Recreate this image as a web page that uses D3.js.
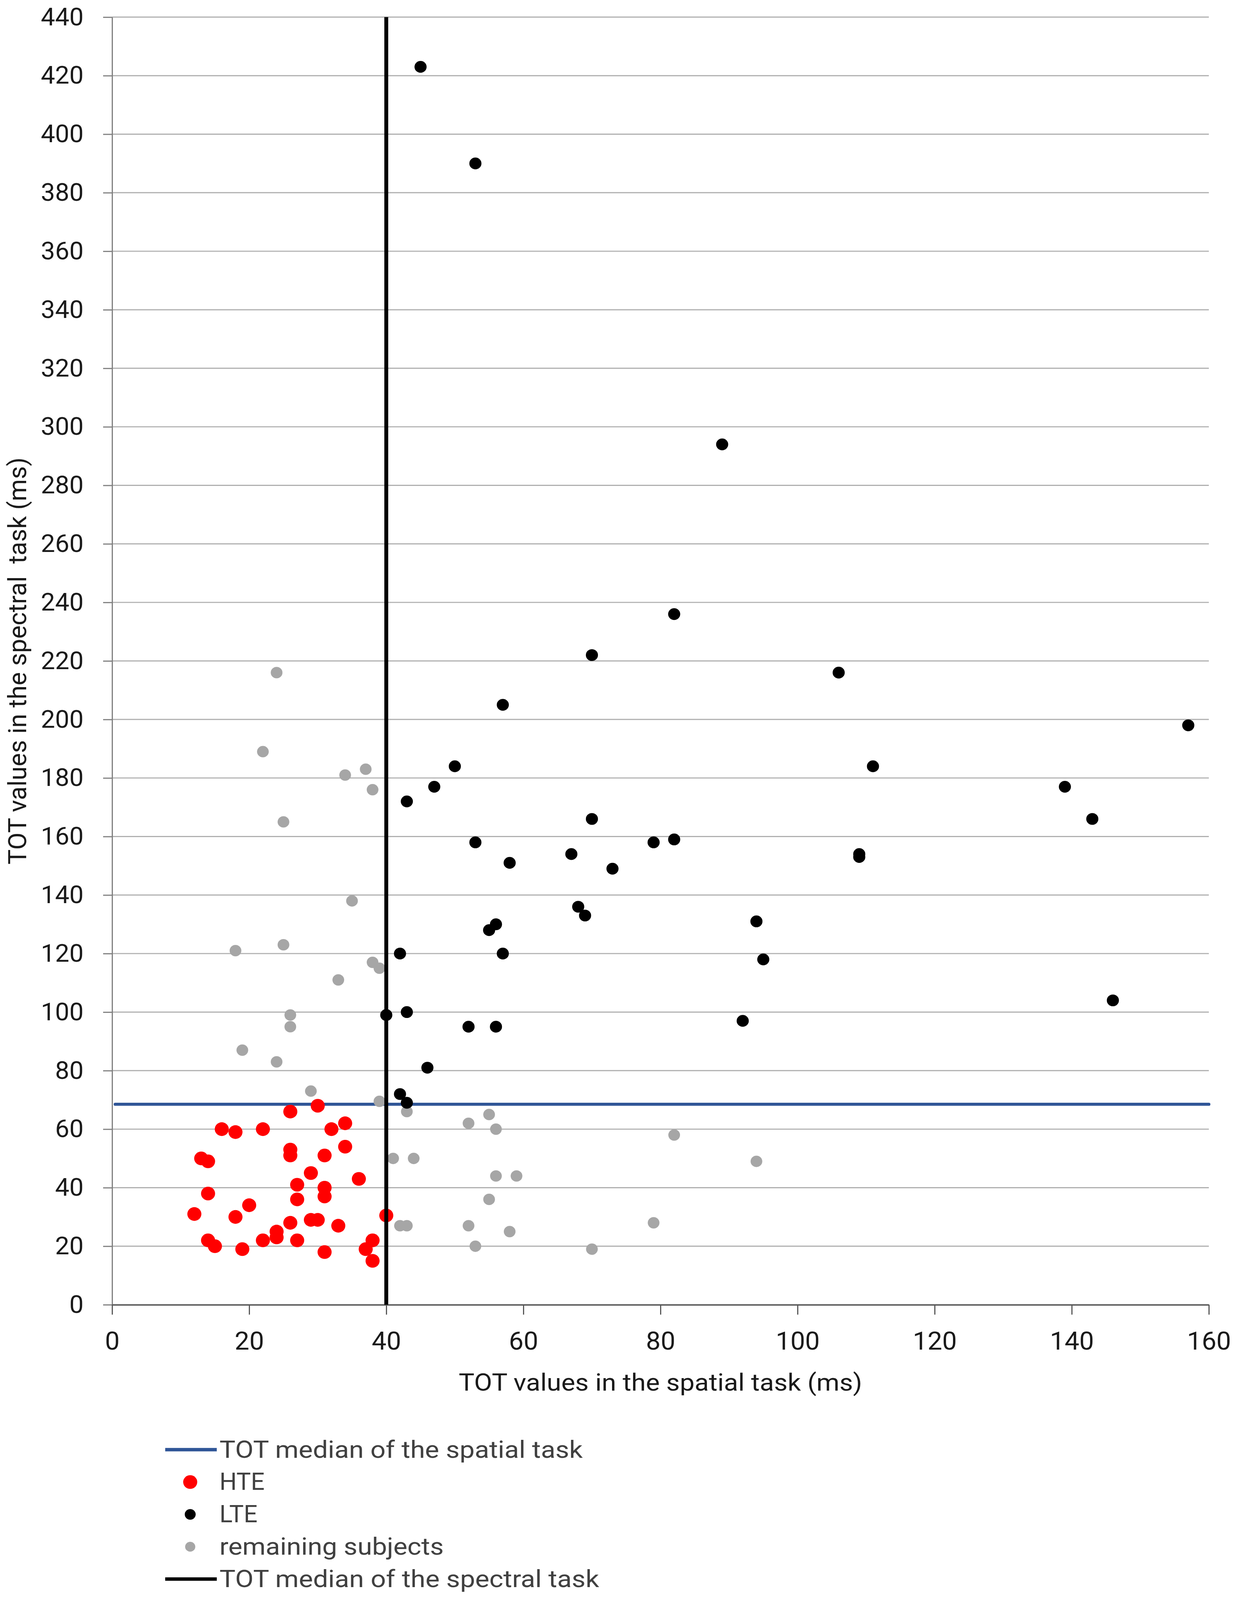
<!DOCTYPE html>
<html>
<head>
<meta charset="utf-8">
<script src="https://cdn.jsdelivr.net/npm/d3@7"></script>
<style>
  html, body { margin: 0; padding: 0; background: #fff; overflow: hidden; }
  svg { display: block; }
</style>
</head>
<body>
<script>
// ---------- DATA ----------
const xTicks = [0, 20, 40, 60, 80, 100, 120, 140, 160];
const yTicks = [0, 20, 40, 60, 80, 100, 120, 140, 160, 180, 200, 220, 240, 260, 280, 300, 320, 340, 360, 380, 400, 420, 440];

// [spatial TOT (x), spectral TOT (y)]
const hte = [
  [30,68],[26,66],[16,60],[18,59],[22,60],[32,60],[34,62],[34,54],[26,53],[26,51],
  [31,51],[13,50],[14,49],[29,45],[36,43],[27,41],[31,40],[31,37],[14,38],[27,36],
  [20,34],[12,31],[18,30],[40,30.5],[26,28],[29,29],[30,29],[33,27],[24,23],[24,25],
  [22,22],[27,22],[14,22],[15,20],[19,19],[31,18],[38,22],[37,19],[38,15]
];
const lte = [
  [45,423],[53,390],[89,294],[82,236],[70,222],[106,216],[57,205],[157,198],[50,184],[111,184],
  [47,177],[139,177],[43,172],[70,166],[143,166],[53,158],[79,158],[82,159],[67,154],[109,154],
  [109,153],[58,151],[73,149],[68,136],[69,133],[94,131],[56,130],[55,128],[42,120],[57,120],
  [95,118],[146,104],[40,99],[43,100],[92,97],[52,95],[56,95],[46,81],[42,72],[43,69]
];
const remaining = [
  [24,216],[22,189],[37,183],[34,181],[38,176],[25,165],[35,138],[25,123],[18,121],[38,117],
  [39,115],[33,111],[26,99],[26,95],[19,87],[24,83],[29,73],[39,69.5],[43,66],[55,65],
  [52,62],[56,60],[82,58],[41,50],[44,50],[94,49],[56,44],[59,44],[55,36],[79,28],
  [42,27],[43,27],[52,27],[58,25],[53,20],[70,19]
];
const spatialMedian = 68.5;   // blue horizontal line
const spectralMedian = 40;    // black vertical line

const xTitle = "TOT values in the spatial task (ms)";
const yTitle = "TOT values in the spectral  task (ms)";
const legendLabels = ["TOT median of the spatial task", "HTE", "LTE", "remaining subjects", "TOT median of the spectral task"];
const legendKinds = ["line", "dot", "dot", "dot", "line"];

// ---------- STYLE ----------
const W = 3162, H = 4205;
// the browser viewport may be shorter than the requested height: stretch the drawing to fit it
const screenH = (window.innerHeight > 0) ? Math.min(window.innerHeight, H) : H;
const FONT = "Roboto, 'Open Sans', 'DejaVu Sans', sans-serif";
const colors = { hte: "#ff0000", lte: "#000000", rem: "#a6a6a6", spatial: "#2f5597", spectral: "#000000" };
const legendColors = [colors.spatial, colors.hte, colors.lte, colors.rem, colors.spectral];
const legendR = [0, 18, 14, 13, 0];

const svg = d3.select("body").append("svg")
  .attr("width", W).attr("height", screenH)
  .attr("viewBox", `0 0 ${W} ${H}`)
  .attr("preserveAspectRatio", "none")
  .style("font-family", FONT);

svg.append("rect").attr("width", W).attr("height", H).attr("fill", "#fff");

const x = d3.scaleLinear().domain([0, 160]).range([287, 3095]);
const y = d3.scaleLinear().domain([0, 440]).range([3429, 45]);

// gridlines
svg.append("g").selectAll("line")
  .data(yTicks.filter(d => d > 0))
  .join("line")
  .attr("x1", x(0)).attr("x2", x(160))
  .attr("y1", d => y(d)).attr("y2", d => y(d))
  .attr("stroke", "#b0b0b0").attr("stroke-width", 3);

// y axis
const yAxis = svg.append("g")
  .attr("transform", `translate(${x(0)},0)`)
  .call(d3.axisLeft(y).tickValues(yTicks).tickSize(23).tickSizeOuter(0).tickPadding(50));
yAxis.select(".domain").attr("stroke", "#7f7f7f").attr("stroke-width", 3);
yAxis.selectAll(".tick line").attr("stroke", "#7f7f7f").attr("stroke-width", 3);
yAxis.selectAll(".tick text")
  .attr("fill", "#1a1a1a").style("font-size", "65px").style("font-family", FONT);

// x axis
const xAxis = svg.append("g")
  .attr("transform", `translate(0,${y(0)})`)
  .call(d3.axisBottom(x).tickValues(xTicks).tickSize(26).tickSizeOuter(0).tickPadding(44));
xAxis.select(".domain").attr("stroke", "#595959").attr("stroke-width", 4);
xAxis.selectAll(".tick line").attr("stroke", "#595959").attr("stroke-width", 3);
xAxis.selectAll(".tick text")
  .attr("fill", "#1a1a1a").style("font-size", "67px").style("font-family", FONT);

// spatial median (blue horizontal)
svg.append("line")
  .attr("x1", x(0) + 8).attr("x2", x(160))
  .attr("y1", y(spatialMedian)).attr("y2", y(spatialMedian))
  .attr("stroke", colors.spatial).attr("stroke-width", 8).attr("stroke-linecap", "round");

// points
function dots(data, color, r) {
  svg.append("g").selectAll("circle")
    .data(data).join("circle")
    .attr("cx", d => x(d[0])).attr("cy", d => y(d[1]))
    .attr("r", r).attr("fill", color);
}
dots(remaining, colors.rem, 15);
dots(lte, colors.lte, 15.5);
dots(hte, colors.hte, 18);

// spectral median (black vertical)
svg.append("line")
  .attr("x1", x(spectralMedian)).attr("x2", x(spectralMedian))
  .attr("y1", y(0)).attr("y2", y(440))
  .attr("stroke", colors.spectral).attr("stroke-width", 10);

// axis titles
svg.append("text")
  .attr("x", (x(0) + x(160)) / 2).attr("y", 3655)
  .attr("text-anchor", "middle")
  .attr("fill", "#1a1a1a").style("font-size", "62px")
  .attr("textLength", 1033).attr("lengthAdjust", "spacingAndGlyphs")
  .text(xTitle);

svg.append("text")
  .attr("transform", `translate(67,${(y(0) + y(440)) / 2}) rotate(-90)`)
  .attr("text-anchor", "middle")
  .attr("fill", "#1a1a1a").style("font-size", "65px")
  .style("white-space", "pre").attr("xml:space", "preserve")
  .attr("textLength", 1070).attr("lengthAdjust", "spacingAndGlyphs")
  .text(yTitle);

// legend
const legY = d3.scaleLinear().domain([0, 4]).range([3810, 4150]);
const legendTextLen = [930, null, null, 574, 972];
const leg = svg.append("g").selectAll("g")
  .data(legendLabels.map((t, i) => ({ t, i })))
  .join("g")
  .attr("transform", d => `translate(0,${legY(d.i)})`);

leg.filter(d => legendKinds[d.i] === "line").append("line")
  .attr("x1", 423).attr("x2", 555).attr("y1", 0).attr("y2", 0)
  .attr("stroke", d => legendColors[d.i]).attr("stroke-width", 9);

leg.filter(d => legendKinds[d.i] === "dot").append("circle")
  .attr("cx", 487).attr("cy", 0)
  .attr("r", d => legendR[d.i]).attr("fill", d => legendColors[d.i]);

leg.append("text")
  .attr("x", 562).attr("y", 21)
  .attr("fill", "#404040").style("font-size", "62px")
  .each(function(d) {
    const L = legendTextLen[d.i];
    if (L) d3.select(this).attr("textLength", L).attr("lengthAdjust", "spacingAndGlyphs");
  })
  .text(d => d.t);
</script>
</body>
</html>
